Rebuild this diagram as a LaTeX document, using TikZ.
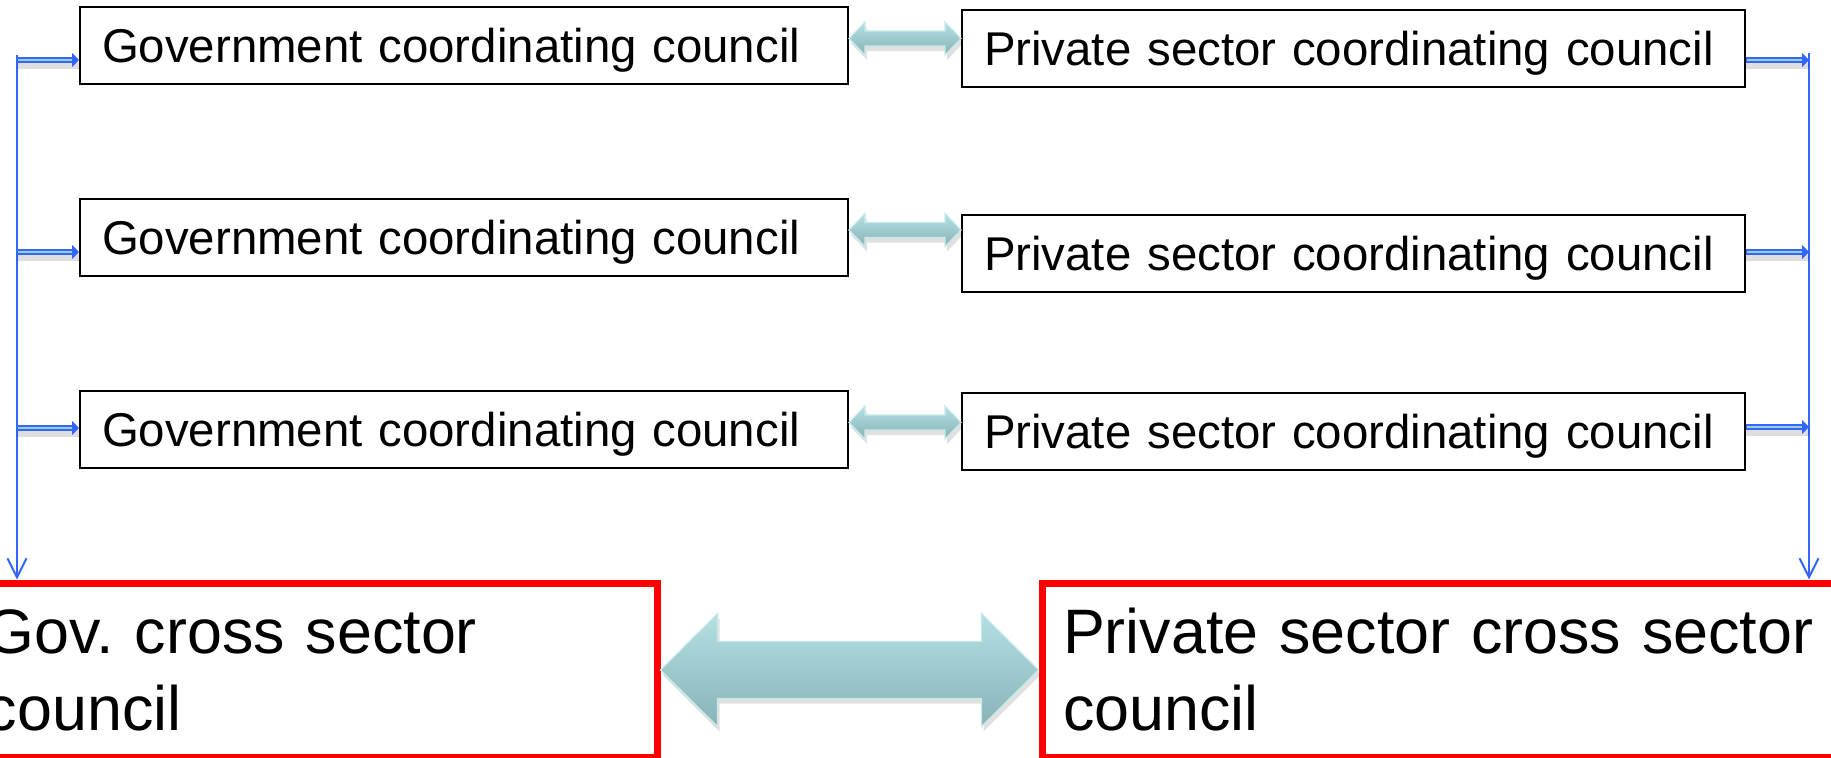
\documentclass[tikz,border=0pt]{standalone}
\usepackage{fontspec}
\setmainfont{Liberation Sans}
\usetikzlibrary{arrows.meta, calc}

\definecolor{feedblue}{RGB}{51,102,255}
\definecolor{feedfill}{RGB}{150,205,215}
\definecolor{linktop}{RGB}{180,224,228}
\definecolor{linkbot}{RGB}{136,178,182}
\definecolor{linkedge}{RGB}{198,234,236}

\tikzset{
  council/.style={draw, line width=1pt, minimum height=38.5pt, inner xsep=11pt,
    align=left, text depth=0pt, font=\fontsize{23.7pt}{28pt}\selectfont},
  crossbox/.style={draw=red, line width=3.5pt, minimum height=87pt, inner xsep=10.5pt,
    align=left, font=\fontsize{31.4pt}{38.5pt}\selectfont},
  feed/.style={draw=feedblue, line width=3pt, -{Triangle[length=3.5pt,width=7pt]},
    preaction={draw=black, opacity=0.13, line width=3.5pt, -, transform canvas={yshift=-2.5pt}},
    postaction={draw=feedfill, line width=1.3pt, -, shorten >=3.5pt, shorten <=0.6pt}},
  rail/.style={draw=feedblue, line width=1pt, -{Straight Barb[length=9.5pt,width=9.5pt]}},
  linkfill/.style={top color=linktop, bottom color=linkbot, draw=linkedge, line width=0.6pt,
    preaction={fill=black, opacity=0.12, transform canvas={xshift=1pt,yshift=-2.5pt}}}
}

% two-headed block arrow: #1 start point, #2 node at the far end,
% #3 head length, #4 head half width, #5 shaft half width
\newcommand\linkarrow[5]{%
  \path[linkfill] let \p1=#1, \p2=#2 in
    (\x1,\y1) -- (\x1+#3,\y1+#4) -- (\x1+#3,\y1+#5) -- (\x2-#3,\y1+#5)
    -- (\x2-#3,\y1+#4) -- (\x2,\y1) -- (\x2-#3,\y1-#4) -- (\x2-#3,\y1-#5)
    -- (\x1+#3,\y1-#5) -- (\x1+#3,\y1-#4) -- cycle;}

\begin{document}
\begin{tikzpicture}[x=0.5pt, y=-0.5pt]
  \clip (0,0) rectangle (1831,757);

  % sector councils
  \node[council, text width=362pt] (g1) at (464,45.5) {Government coordinating council};
  \node[council, text width=362pt] (g2) at (464,237) {Government coordinating council};
  \node[council, text width=362pt] (g3) at (464,429.5) {Government coordinating council};
  \node[council, text width=369.5pt] (p1) at (1353.5,48) {Private sector coordinating council};
  \node[council, text width=369.5pt] (p2) at (1353.5,253) {Private sector coordinating council};
  \node[council, text width=369.5pt] (p3) at (1353.5,431.5) {Private sector coordinating council};

  % cross sector councils
  \node[crossbox, text width=325pt] (cg) at (311,670) {Gov.\ cross sector\\council};
  \node[crossbox, text width=388pt] (cp) at (1451,670) {Private sector cross sector\\council};

  % links gov <-> private
  \foreach \row in {1,2,3}
    \linkarrow{([yshift=3.5pt]g\row.east)}{(p\row.west)}{8pt}{8.25pt}{3.75pt};
  \linkarrow{(cg.east)}{(cp.west)}{28.5pt}{28.25pt}{14.25pt}

  % side rails down to the cross sector councils
  \coordinate (railL) at (17,55);
  \coordinate (railR) at (1809,53);
  \draw[rail] (railL) -- (railL |- cg.north);
  \draw[rail] (railR) -- (railR |- cp.north);

  \draw[feed] (railL |- 0,60) -- (g1.west |- 0,60);
  \draw[feed] (railL |- 0,252) -- (g2.west |- 0,252);
  \draw[feed] (railL |- 0,428) -- (g3.west |- 0,428);
  \draw[feed] (p1.east |- 0,60) -- (railR |- 0,60);
  \draw[feed] (p2.east |- 0,252) -- (railR |- 0,252);
  \draw[feed] (p3.east |- 0,427) -- (railR |- 0,427);
\end{tikzpicture}
\end{document}
